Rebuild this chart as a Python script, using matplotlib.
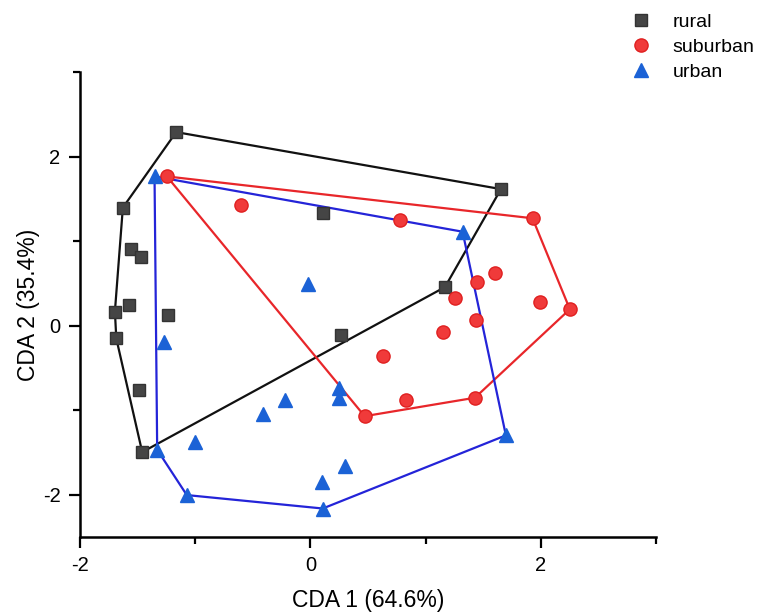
import matplotlib
matplotlib.use("Agg")
import matplotlib.pyplot as plt
from matplotlib.ticker import MultipleLocator

plt.rcParams['font.family'] = ['Liberation Sans', 'DejaVu Sans']
plt.rcParams['axes.unicode_minus'] = False

# ---- data ----
rural_x = [-1.165, 1.654, -1.628, -1.561, -1.468, -1.576, -1.697, -1.238, -1.685, 0.107, 1.168, 0.266, -1.489, -1.460]
rural_y = [2.289, 1.615, 1.396, 0.901, 0.806, 0.246, 0.167, 0.127, -0.151, 1.327, 0.456, -0.115, -0.765, -1.496]
rural_hull = [0, 1, 10, 13, 8, 6, 2]

sub_x = [-1.246, -0.601, 0.781, 1.928, 1.602, 1.446, 1.258, 1.992, 2.252, 1.437, 1.153, 0.627, 0.471, 0.830, 1.428]
sub_y = [1.765, 1.429, 1.250, 1.270, 0.627, 0.516, 0.330, 0.278, 0.194, 0.071, -0.079, -0.365, -1.071, -0.881, -0.853]
sub_hull = [0, 3, 8, 14, 12]

urb_x = [-1.353, 1.321, -0.023, -1.272, 0.252, 0.252, -0.217, -0.408, -1.003, -1.330, -1.073, 0.107, 0.098, 0.301, 1.697]
urb_y = [1.765, 1.111, 0.496, -0.190, -0.734, -0.860, -0.881, -1.051, -1.377, -1.468, -2.004, -2.163, -1.853, -1.659, -1.298]
urb_hull = [0, 1, 14, 11, 10, 9]

labels = ["rural", "suburban", "urban"]
xlabel = "CDA 1 (64.6%)"
ylabel = "CDA 2 (35.4%)"

fig = plt.figure(figsize=(7.65, 6.14), dpi=100)
ax = fig.add_axes([80/765, 77/614, 576/765, 465/614])

def hull(xs, ys, idx):
    hx = [xs[i] for i in idx] + [xs[idx[0]]]
    hy = [ys[i] for i in idx] + [ys[idx[0]]]
    return hx, hy

hx, hy = hull(rural_x, rural_y, rural_hull)
ax.plot(hx, hy, color='#111111', lw=1.6, zorder=2)
hx, hy = hull(sub_x, sub_y, sub_hull)
ax.plot(hx, hy, color='#E8262A', lw=1.6, zorder=2)
hx, hy = hull(urb_x, urb_y, urb_hull)
ax.plot(hx, hy, color='#2424D8', lw=1.6, zorder=2)

ax.plot(rural_x, rural_y, 's', ms=8.5, color='#454545', mec='#333333', ls='none', label=labels[0], zorder=3)
ax.plot(sub_x, sub_y, 'o', ms=9.5, color='#F03A3A', mec='#E02020', ls='none', label=labels[1], zorder=3)
ax.plot(urb_x, urb_y, '^', ms=10, color='#1B62D6', mec='#1B62D6', ls='none', label=labels[2], zorder=3)

ax.set_xlim(-2, 3)
ax.set_ylim(-2.5, 3)
ax.xaxis.set_minor_locator(MultipleLocator(1))
ax.yaxis.set_minor_locator(MultipleLocator(1))
ax.set_xticks([-2, 0, 2])
ax.set_yticks([-2, 0, 2])
for s in ['top', 'right']:
    ax.spines[s].set_visible(False)
for s in ['left', 'bottom']:
    ax.spines[s].set_linewidth(1.8)
ax.tick_params(which='major', direction='out', length=8, width=1.6, labelsize=14.5, pad=6)
ax.tick_params(which='minor', direction='out', length=5, width=1.6)
ax.set_xlabel(xlabel, fontsize=16.5, labelpad=10)
ax.set_ylabel(ylabel, fontsize=16.5, labelpad=2)

fig.legend(loc='upper left', bbox_to_anchor=(614/765, 1 + 4/614), frameon=False,
           fontsize=14, handlelength=1.0, handletextpad=1.1, labelspacing=0.38)

fig.savefig("out.png", dpi=100, facecolor='white')
